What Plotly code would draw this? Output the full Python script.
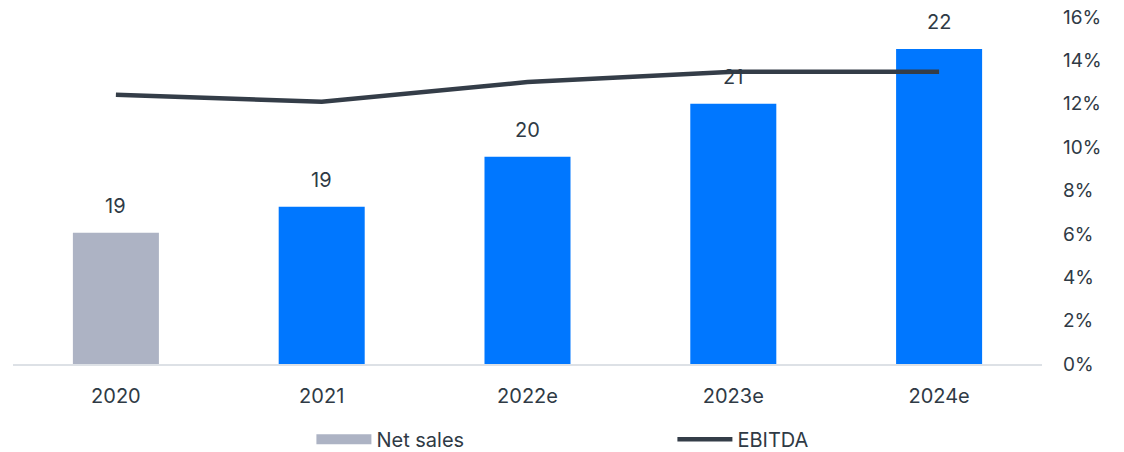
import plotly.graph_objects as go

categories = ["2020", "2021", "2022e", "2023e", "2024e"]
net_sales = [18.63, 19.15, 20.15, 21.21, 22.31]
net_sales_labels = ["19", "19", "20", "21", "22"]
ebitda_margin = [12.41, 12.09, 13.0, 13.47, 13.47]
bar_colors = ["#adb3c4", "#0077ff", "#0077ff", "#0077ff", "#0077ff"]
pct_ticks = [0, 2, 4, 6, 8, 10, 12, 14, 16]

FONT = "Inter"
TEXT = "#2f3a45"

fig = go.Figure()
fig.add_trace(go.Bar(
    x=categories, y=net_sales, name="Net sales", showlegend=False,
    marker=dict(color=bar_colors, line=dict(width=0)),
    width=0.418, yaxis="y", hoverinfo="skip",
))
# legend entry for the bars (wide swatch like the reference)
fig.add_trace(go.Scatter(
    x=[None], y=[None], name="Net sales", mode="lines",
    line=dict(color=bar_colors[0], width=13), yaxis="y", hoverinfo="skip",
))
fig.add_trace(go.Scatter(
    x=categories, y=ebitda_margin, name="EBITDA", mode="lines",
    line=dict(color="#343d48", width=4.5), yaxis="y2", hoverinfo="skip",
))

for i, (v, t) in enumerate(zip(net_sales, net_sales_labels)):
    fig.add_annotation(x=i, y=v, xref="x", yref="y", text=t, showarrow=False,
                       yanchor="middle", yshift=27,
                       font=dict(family=FONT, size=20, color=TEXT))

fig.update_layout(
    width=1124, height=452,
    margin=dict(l=13, r=82, t=17, b=87.5, autoexpand=False),
    paper_bgcolor="white", plot_bgcolor="white",
    font=dict(family=FONT, size=20, color=TEXT),
    xaxis=dict(type="category", range=[-0.5, len(categories) - 0.5],
               showline=True, linecolor="#dde1e6", linewidth=2,
               showgrid=False, ticks="", ticklabelstandoff=13,
               tickfont=dict(family=FONT, size=20, color=TEXT)),
    yaxis=dict(range=[16, 22.95], visible=False, showgrid=False),
    yaxis2=dict(range=[0, 16], overlaying="y", side="right",
                tickvals=pct_ticks, ticktext=[f"{p}%" for p in pct_ticks],
                showgrid=False, zeroline=False, showline=False, ticks="",
                ticklabelstandoff=20,
                tickfont=dict(family=FONT, size=19, color=TEXT)),
    showlegend=True,
    legend=dict(orientation="h", x=0.29, xanchor="left", y=-0.217, yanchor="middle",
                entrywidth=291, entrywidthmode="pixels", itemwidth=55,
                font=dict(family=FONT, size=20, color=TEXT),
                bgcolor="rgba(0,0,0,0)"),
)

fig.write_html("out.html", config={"displayModeBar": False},
               post_script="document.body.style.margin='0';")
